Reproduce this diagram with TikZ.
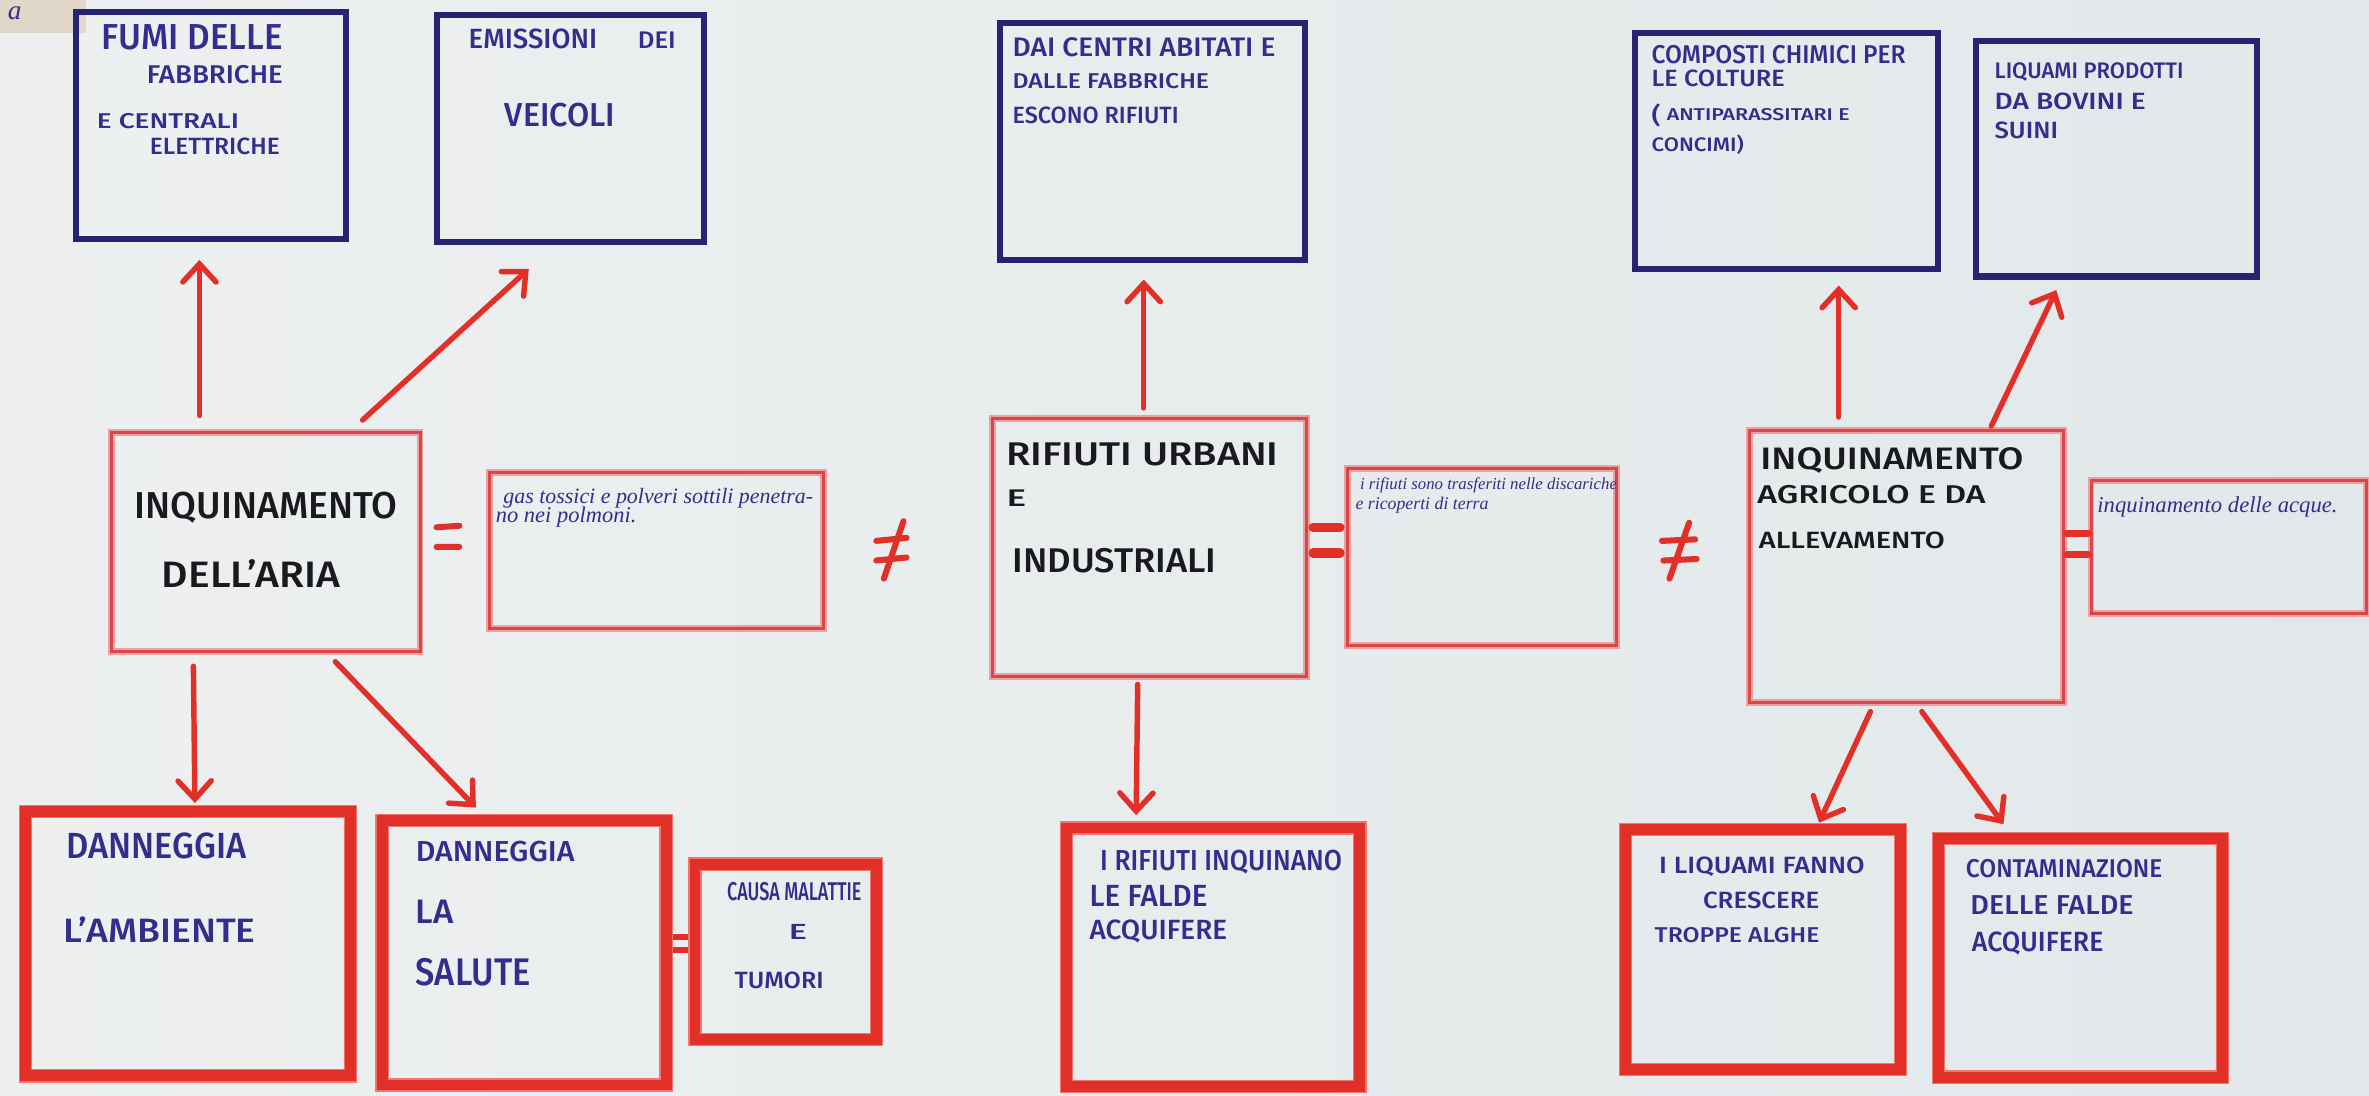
\documentclass[tikz,border=0pt]{standalone}
\usepackage{graphicx}
\usepackage{fontspec}
\setmainfont{Fira Sans}[UprightFont=* Medium]
\newfontfamily\cursive{Liberation Serif}
\usetikzlibrary{arrows.meta}

\definecolor{paperL}{RGB}{238,240,240}
\definecolor{paperR}{RGB}{226,232,234}
\definecolor{beige}{RGB}{224,215,201}
\definecolor{navy}{RGB}{38,36,112}
\definecolor{ink}{RGB}{54,44,142}
\definecolor{pen}{RGB}{25,25,30}
\definecolor{marker}{RGB}{226,48,40}
\definecolor{markerhalo}{RGB}{238,120,112}
\definecolor{thinred}{RGB}{214,72,74}
\definecolor{thinhalo}{RGB}{238,160,160}

% a written line: width, cap height, text
\newcommand\hw[3]{\resizebox{#1pt}{#2pt}{#3}}
\newcommand\hc[2]{\resizebox{#1pt}{!}{\cursive\itshape #2}}

\begin{document}
\begin{tikzpicture}[x=1pt,y=-1pt,
  bluebox/.style={draw=navy, line width=4pt, rectangle, inner sep=0pt},
  thinbox/.style={draw=thinred, line width=2pt, rectangle, inner sep=0pt,
    preaction={draw=thinhalo, line width=4.5pt}},
  redbox/.style={draw=marker, line width=7pt, rectangle, inner sep=0pt,
    preaction={draw=markerhalo, line width=9pt}},
  txt/.style={anchor=base west, inner sep=0pt, text=#1},
  arr/.style={draw=marker, line width=3.6pt, line cap=round,
    -{Straight Barb[length=12pt,width=22pt,line cap=round]}},
  mark/.style={draw=marker, line width=#1, line cap=round},
]
\useasboundingbox (0,0) rectangle (1568,725);
\shade[left color=paperL, right color=paperR] (0,0) rectangle (1568,725);

% scrap of paper in the corner
\fill[beige] (0,0) rectangle (57,22);
\node[txt=ink] (scrap) at (5,13) {\hc{9}{a}};

% ---- top row: sources ----
\node[bluebox, minimum width=179pt, minimum height=150pt] (fumi)  at (139.5,83) {};
\node[bluebox, minimum width=177pt, minimum height=150pt] (emiss) at (377.5,85) {};
\node[bluebox, minimum width=202pt, minimum height=157pt] (dai)   at (763,93.5) {};
\node[bluebox, minimum width=201pt, minimum height=156pt] (comp)  at (1182.5,100) {};
\node[bluebox, minimum width=186pt, minimum height=156pt] (liq)   at (1401,105) {};

\node[txt=ink] (fumiA) at (67,33)   {\hw{120}{16.5}{FUMI DELLE}};
\node[txt=ink] (fumiB) at (97,55)   {\hw{90}{12}{FABBRICHE}};
\node[txt=ink] (fumiC) at (64,85)   {\hw{94}{10}{E CENTRALI}};
\node[txt=ink] (fumiD) at (99,102.5){\hw{86}{11}{ELETTRICHE}};

\node[txt=ink] (emA) at (310,32) {\hw{85}{13}{EMISSIONI}};
\node[txt=ink] (emB) at (422,32) {\hw{25}{11}{DEI}};
\node[txt=ink] (emC) at (334,84) {\hw{73}{15.5}{VEICOLI}};

\node[txt=ink] (daiA) at (670,37.5) {\hw{174}{12.5}{DAI CENTRI ABITATI E}};
\node[txt=ink] (daiB) at (670,58.5) {\hw{130}{10}{DALLE FABBRICHE}};
\node[txt=ink] (daiC) at (670,82)   {\hw{110}{11}{ESCONO RIFIUTI}};

\node[txt=ink] (compA) at (1093,42)   {\hw{168}{12}{COMPOSTI CHIMICI PER}};
\node[txt=ink] (compB) at (1093,57.5) {\hw{88}{11}{LE COLTURE}};
\node[txt=ink] (compC) at (1093,82)   {\hw{6}{13}{(}};
\node[txt=ink] (compD) at (1103,80)   {\hw{121}{8}{ANTIPARASSITARI E}};
\node[txt=ink] (compE) at (1093,100)  {\hw{61}{11}{CONCIMI)}};

\node[txt=ink] (liqA) at (1320,52)   {\hw{125}{10.5}{LIQUAMI PRODOTTI}};
\node[txt=ink] (liqB) at (1320,72.5) {\hw{100}{11}{DA BOVINI E}};
\node[txt=ink] (liqC) at (1320,91.5) {\hw{42}{11}{SUINI}};

% ---- middle row: the three kinds of pollution ----
\node[thinbox, minimum width=204pt, minimum height=145pt] (aria) at (176,358.5) {};
\node[thinbox, minimum width=221pt, minimum height=103pt] (gas)  at (434.5,364.5) {};
\node[thinbox, minimum width=208pt, minimum height=171pt] (rif)  at (761,362.5) {};
\node[thinbox, minimum width=178pt, minimum height=117pt] (disc) at (981,368.5) {};
\node[thinbox, minimum width=208pt, minimum height=180pt] (agr)  at (1262,375) {};
\node[thinbox, minimum width=182pt, minimum height=88pt]  (acq)  at (1475,362) {};

\node[txt=pen] (ariaA) at (89,343)  {\hw{174}{17.5}{INQUINAMENTO}};
\node[txt=pen] (ariaB) at (107,389) {\hw{118}{18.5}{DELL'ARIA}};

\node[txt=pen] (rifA) at (666,308) {\hw{180}{15}{RIFIUTI URBANI}};
\node[txt=pen] (rifB) at (666,335) {\hw{13}{11}{E}};
\node[txt=pen] (rifC) at (670,379) {\hw{135}{16}{INDUSTRIALI}};

\node[txt=pen] (agrA) at (1165,311) {\hw{174}{14.5}{INQUINAMENTO}};
\node[txt=pen] (agrB) at (1163,333) {\hw{151}{12}{AGRICOLO E DA}};
\node[txt=pen] (agrC) at (1164,363) {\hw{123}{11}{ALLEVAMENTO}};

\node[txt=ink] (gasA) at (333,333) {\hc{205}{gas tossici e polveri sottili penetra-}};
\node[txt=ink] (gasB) at (328,346) {\hc{93}{no nei polmoni.}};
\node[txt=ink] (discA) at (900,324)   {\hc{170}{i rifiuti sono trasferiti nelle discariche}};
\node[txt=ink] (discB) at (897,337.5) {\hc{88}{e ricoperti di terra}};
\node[txt=ink] (acqA) at (1388,339) {\hc{159}{inquinamento delle acque.}};

% equal and not-equal signs
\draw[mark=4pt] (289,349) -- (304,348) (289,362) -- (304,362);
\draw[mark=4pt] (580,358) -- (600,356) (580,371) -- (600,369) (598,345) -- (585,383);
\draw[mark=6pt] (869,349) -- (887,349) (869,366) -- (887,366);
\draw[mark=4pt] (1100,358) -- (1122,357) (1101,371) -- (1123,370) (1118,346) -- (1105,383);
\draw[mark=5pt] (1368,353) -- (1382,353) (1368,367) -- (1382,367);
\draw[mark=4pt] (441,620) -- (456,620) (441,629) -- (456,629);

% ---- bottom row: effects ----
\node[redbox, minimum width=215pt, minimum height=175pt] (amb)  at (124.5,624.5) {};
\node[redbox, minimum width=188pt, minimum height=175pt] (sal)  at (347,630.5) {};
\node[redbox, minimum width=120pt, minimum height=116pt] (cau)  at (520,630) {};
\node[redbox, minimum width=194pt, minimum height=171pt] (fal)  at (803,633.5) {};
\node[redbox, minimum width=182pt, minimum height=159pt] (liqb) at (1167,628.5) {};
\node[redbox, minimum width=188pt, minimum height=158pt] (con)  at (1377,634) {};

\node[txt=ink] (ambA) at (44,568) {\hw{119}{17}{DANNEGGIA}};
\node[txt=ink] (ambB) at (42,624) {\hw{127}{17}{L'AMBIENTE}};

\node[txt=ink] (salA) at (275,570.5) {\hw{105}{13.5}{DANNEGGIA}};
\node[txt=ink] (salB) at (275,611)   {\hw{25}{15.5}{LA}};
\node[txt=ink] (salC) at (275,652)   {\hw{76}{18}{SALUTE}};

\node[txt=ink] (cauA) at (481,596) {\hw{89}{12}{CAUSA MALATTIE}};
\node[txt=ink] (cauB) at (522,622) {\hw{12}{10}{E}};
\node[txt=ink] (cauC) at (486,654) {\hw{59}{11}{TUMORI}};

\node[txt=ink] (falA) at (728,576) {\hw{160}{13.5}{I RIFIUTI INQUINANO}};
\node[txt=ink] (falB) at (721,600) {\hw{78}{14}{LE FALDE}};
\node[txt=ink] (falC) at (721,622) {\hw{91}{13}{ACQUIFERE}};

\node[txt=ink] (lbA) at (1098,578) {\hw{136}{11}{I LIQUAMI FANNO}};
\node[txt=ink] (lbB) at (1127,601) {\hw{77}{11}{CRESCERE}};
\node[txt=ink] (lbC) at (1095,624) {\hw{109}{10}{TROPPE ALGHE}};

\node[txt=ink] (conA) at (1301,581) {\hw{130}{12}{CONTAMINAZIONE}};
\node[txt=ink] (conB) at (1304,605) {\hw{108}{12.5}{DELLE FALDE}};
\node[txt=ink] (conC) at (1305,630) {\hw{87}{13}{ACQUIFERE}};

% ---- connectors ----
\draw[arr] ([xshift=-44pt,yshift=10pt]aria.north) -- ([xshift=-7.5pt,yshift=-12pt]fumi.south);
\draw[arr] ([xshift=64pt,yshift=7pt]aria.north)   -- ([xshift=-27.5pt,yshift=-16pt]emiss.south);
\draw[arr] ([xshift=-48pt,yshift=-9pt]aria.south) -- ([xshift=4.5pt,yshift=2pt]amb.north);
\draw[arr] ([xshift=46pt,yshift=-6pt]aria.south)  -- ([xshift=-32pt,yshift=5pt]sal.north);
\draw[arr] ([xshift=-4pt,yshift=6pt]rif.north)    -- ([xshift=-6pt,yshift=-11pt]dai.south);
\draw[arr] ([xshift=-8pt,yshift=-4pt]rif.south)   -- ([xshift=-51pt,yshift=5pt]fal.north);
\draw[arr] ([xshift=-45pt,yshift=8pt]agr.north)   -- ([xshift=34.5pt,yshift=-9pt]comp.south);
\draw[arr] ([xshift=56pt,yshift=2pt]agr.north)    -- ([xshift=-40pt,yshift=-7pt]liq.south);
\draw[arr] ([xshift=-24pt,yshift=-5pt]agr.south)  -- ([xshift=37pt,yshift=1pt]liqb.north);
\draw[arr] ([xshift=10pt,yshift=-5pt]agr.south)   -- ([xshift=-51pt,yshift=6pt]con.north);
\end{tikzpicture}
\end{document}
